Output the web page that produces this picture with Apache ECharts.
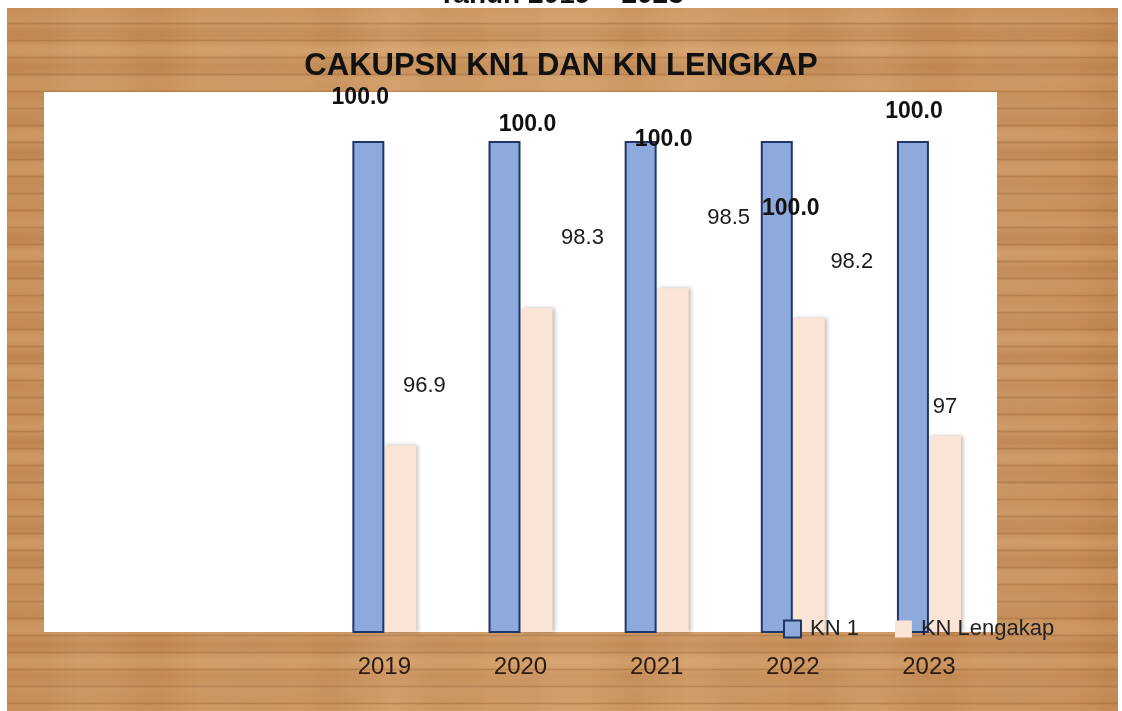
<!DOCTYPE html>
<html>
<head>
<meta charset="utf-8">
<script src="https://cdn.jsdelivr.net/npm/echarts@6/dist/echarts.min.js"></script>
<style>
  html, body { margin: 0; padding: 0; background: #ffffff; }
  #wrap { position: relative; width: 1122px; height: 711px; overflow: hidden; }
  #wood {
    position: absolute; left: 7px; top: 8px; width: 1111px; height: 703px;
    background-color: #ca9159;
    background-image:
      repeating-linear-gradient(180deg, rgba(110,55,15,0) 0px, rgba(110,55,15,0) 14px, rgba(110,55,15,0.22) 15.5px, rgba(110,55,15,0) 17px),
      repeating-linear-gradient(180deg, rgba(255,225,180,0) 0px, rgba(255,225,180,0.14) 13px, rgba(255,225,180,0) 29px),
      repeating-linear-gradient(180deg, rgba(120,60,20,0) 0px, rgba(120,60,20,0.12) 23px, rgba(120,60,20,0) 41px),
      repeating-linear-gradient(90deg, rgba(255,230,190,0) 0px, rgba(255,230,190,0.10) 70px, rgba(255,230,190,0) 157px),
      repeating-linear-gradient(90deg, rgba(110,55,15,0) 0px, rgba(110,55,15,0.06) 40px, rgba(110,55,15,0) 97px),
      linear-gradient(90deg, #c88e56 0%, #d09a63 50%, #c78c55 100%);
  }
  #chart { position: absolute; left: 0; top: 0; width: 1122px; height: 711px; }
</style>
</head>
<body>
<div id="wrap">
  <div id="wood"></div>
  <div id="chart"></div>
</div>
<script>
// ---- data ----
const categories = ['', '', '2019', '2020', '2021', '2022', '2023'];
const kn1 = [null, null, 100, 100, 100, 100, 100];
const knLengkap = [null, null, 96.9, 98.3, 98.5, 98.2, 97];
const seriesNames = ['KN 1', 'KN Lengakap'];
const chartTitle = 'CAKUPSN KN1 DAN KN LENGKAP';
const topTitle = 'Tahun 2019 \u2013 2023';

// label placement (style only)
const kn1LabelOffsets = [[0,0],[0,0],[-8,-27],[23,0],[23,15],[14,84],[1,-13]];
const lengkapLabelOffsets = [[0,0],[0,0],[24,-44],[46,-54],[56,-54],[43,-40],[0,-13]];

const FONT = '"Liberation Sans", Arial, sans-serif';

function buildData(vals, offsets) {
  return vals.map((v, i) => v == null ? '-' : ({ value: v, label: { offset: offsets[i] } }));
}

const chart = echarts.init(document.getElementById('chart'), null, { renderer: 'canvas' });
chart.setOption({
  backgroundColor: 'transparent',
  animation: false,
  title: [
    {
      text: chartTitle, left: 'center', top: 46,
      textStyle: { fontFamily: FONT, fontSize: 31, fontWeight: 'bold', color: '#111111', lineHeight: 31 }
    },
    {
      text: topTitle, left: 'center', top: -24,
      textStyle: { fontFamily: FONT, fontSize: 28, fontWeight: 'bold', color: '#111111', lineHeight: 28 }
    }
  ],
  legend: {
    data: seriesNames,
    left: 783, top: 618,
    itemWidth: 17, itemHeight: 17, itemGap: 36,
    padding: 0,
    icon: 'rect',
    textStyle: { fontFamily: FONT, fontSize: 22, color: '#222222', lineHeight: 18, padding: [0, 0, 0, 4] }
  },
  grid: {
    left: 44, right: 125, top: 92, bottom: 79,
    show: true, backgroundColor: '#ffffff', borderWidth: 0
  },
  xAxis: {
    type: 'category',
    data: categories,
    axisLine: { show: false },
    axisTick: { show: false },
    axisLabel: { margin: 23, fontFamily: FONT, fontSize: 24, color: '#2a1a12', interval: 0 }
  },
  yAxis: {
    type: 'value', min: 95, max: 100.5,
    show: false,
    splitLine: { show: false }
  },
  series: [
    {
      name: seriesNames[0], type: 'bar',
      barWidth: 32, barGap: '0%',
      data: buildData(kn1, kn1LabelOffsets),
      itemStyle: { color: '#8eaadc', borderColor: '#1f3568', borderWidth: 2 },
      label: {
        show: true, position: 'top', distance: 5,
        fontFamily: FONT, fontSize: 23, fontWeight: 'bold', color: '#111111', lineHeight: 22,
        formatter: p => Number(p.value).toFixed(1)
      },
      z: 3
    },
    {
      name: seriesNames[1], type: 'bar',
      barWidth: 32,
      data: buildData(knLengkap, lengkapLabelOffsets),
      itemStyle: { color: '#fbe4d5', shadowColor: 'rgba(0,0,0,0.25)', shadowBlur: 4, shadowOffsetX: 2 },
      label: {
        show: true, position: 'top', distance: 5,
        fontFamily: FONT, fontSize: 22, color: '#1a1a1a', lineHeight: 22,
        formatter: p => String(p.value)
      },
      z: 2
    }
  ]
});
</script>
</body>
</html>
